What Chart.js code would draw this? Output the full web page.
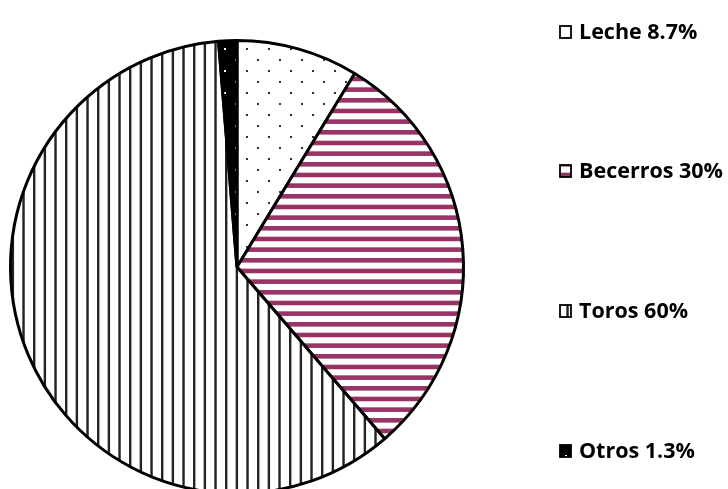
<!DOCTYPE html>
<html>
<head>
<meta charset="utf-8">
<script src="https://cdn.jsdelivr.net/npm/chart.js@4"></script>
<style>
    html, body { margin: 0; padding: 0; background: #fff; overflow: hidden; }
    #wrap { width: 728px; height: 489px; overflow: hidden; }
</style>
</head>
<body>
<div id="wrap"><canvas id="pieChart" width="728" height="500"></canvas></div>
<script>
const labels = ['Leche', 'Becerros', 'Toros', 'Otros'];
const values = [8.7, 30, 60, 1.3];
const legendBaseline = [39, 178, 318, 458];

//make the fill patterns
function dots(bg, fg) {
    const c = document.createElement('canvas');
    c.width = 22; c.height = 22;
    const g = c.getContext('2d');
    g.fillStyle = bg; g.fillRect(0, 0, 22, 22);
    g.fillStyle = fg;
    g.fillRect(4, 4, 2, 2);
    g.fillRect(15, 15, 2, 2);
    return g.createPattern(c, 'repeat');
}

function stripes(color, vertical) {
    const c = document.createElement('canvas');
    c.width = 32; c.height = 32;
    const g = c.getContext('2d');
    g.fillStyle = '#fff'; g.fillRect(0, 0, 32, 32);
    g.fillStyle = color;
    for (let i = 0; i < 3; i++) {
        const p = i * 32 / 3;
        if (vertical) g.fillRect(p + 1, 0, 2.4, 32);
        else g.fillRect(0, p + 2, 32, 4.6);
    }
    return g.createPattern(c, 'repeat');
}

const ctx = document.getElementById('pieChart').getContext('2d');
const fills = [dots('#fff', '#333'), stripes('#993366', false), stripes('#222', true), dots('#000', '#fff')];

//legend drawn by hand on the right
const sideLegend = {
    id: 'sideLegend',
    afterDraw(chart) {
        const g = chart.ctx;
        g.save();
        g.font = 'bold 21.5px "Open Sans"';
        g.textBaseline = 'alphabetic';
        labels.forEach((name, i) => {
            const y = legendBaseline[i];
            g.fillStyle = fills[i];
            g.fillRect(560, y - 13, 11, 12);
            g.strokeStyle = '#000';
            g.lineWidth = 1.8;
            g.strokeRect(560, y - 13, 11, 12);
            g.fillStyle = '#000';
            g.fillText(name + ' ' + values[i] + '%', 579, y);
        });
        g.restore();
    }
};

new Chart(ctx, {
    type: 'pie',
    data: {
        labels: labels,
        datasets: [{
            data: values,
            backgroundColor: fills,
            borderColor: '#000',
            borderWidth: 3,
            borderAlign: 'center'
        }]
    },
    options: {
        responsive: false,
        devicePixelRatio: 1,
        animation: false,
        layout: { padding: { left: 9, right: 263, top: 39, bottom: 5 } },
        plugins: {
            legend: { display: false },
            tooltip: { enabled: false }
        }
    },
    plugins: [sideLegend]
});
</script>
</body>
</html>
